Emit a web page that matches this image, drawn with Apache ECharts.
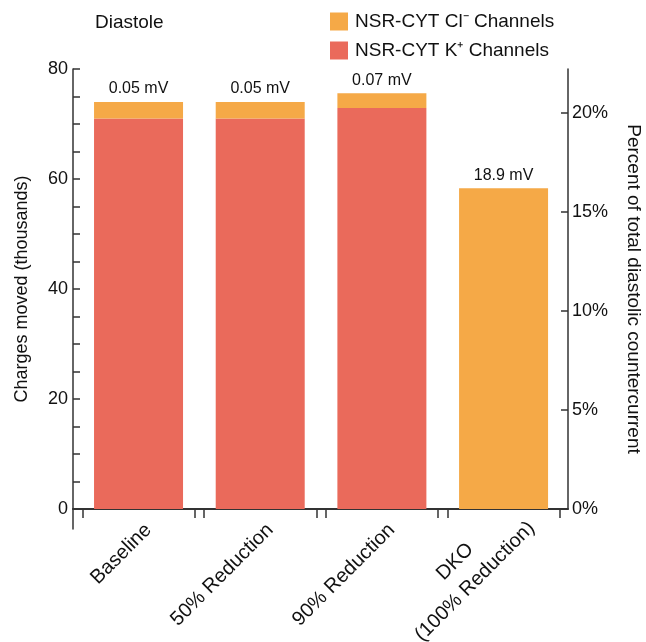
<!DOCTYPE html>
<html>
<head>
<meta charset="utf-8">
<script src="https://cdn.jsdelivr.net/npm/echarts@6/dist/echarts.min.js"></script>
<style>
  html, body { margin: 0; padding: 0; background: #fff; }
  #chart { width: 646px; height: 642px; }
</style>
</head>
<body>
<div id="chart"></div>
<script>
// Diastolic countercurrent charges moved through NSR-CYT channels (thousands)
const categories = ['Baseline', '50% Reduction', '90% Reduction', 'DKO\n(100% Reduction)'];
const potassiumCharges = [71.0, 71.0, 72.9, 0];
const chlorideCharges = [3.0, 3.0, 2.7, 58.3];
const voltageLabels = ['0.05 mV', '0.05 mV', '0.07 mV', '18.9 mV'];

// Axis ticks
const chargeTicks = [0, 5, 10, 15, 20, 25, 30, 35, 40, 45, 50, 55, 60, 65, 70, 75, 80];
const chargeTickLabels = [0, 20, 40, 60, 80];
const percentTicks = [0, 5, 10, 15, 20];

const FONT = '"Liberation Sans", Arial, Helvetica, sans-serif';
const INK = '#111';
const AXIS = '#333';
const ORANGE = '#F5A947';
const RED = '#EA6A5B';

const PLOT = { top: 69, height: 440 };
const BAND_LEFT = 77.7, BAND_WIDTH = 486.7;
const BAND = BAND_WIDTH / categories.length;
const LINE_H = 28;

const chart = echarts.init(document.getElementById('chart'), null, { renderer: 'canvas' });

const gridBox = (left, top, width, height) => ({
  left, top, width, height, containLabel: false, outerBoundsMode: 'none'
});

const hiddenValueAxis = (gridIndex) => ({
  type: 'value', gridIndex, min: 0, max: 80, show: false
});

// Short category axes whose band edges give the paired ticks below each column
const tickAxis = (gridIndex) => ({
  type: 'category', gridIndex, data: ['', '', ''],
  axisLine: { show: false },
  axisTick: { show: true, length: 9, lineStyle: { color: AXIS, width: 1.5 } },
  axisLabel: { show: false },
  splitLine: { show: false }
});

// Rotated category names; single-line and two-line names are laid out on separate axes
const isMultiLine = (v) => v.indexOf('\n') >= 0;
const richName = (v) => v.split('\n').map((s) => '{c|' + s + '}').join('\n');
const nameLabel = (extra) => Object.assign({
  rotate: 45, interval: 0,
  fontFamily: FONT, fontSize: 20, color: INK,
  rich: { c: { align: 'center', fontFamily: FONT, fontSize: 20, color: INK, lineHeight: LINE_H } }
}, extra);

chart.setOption({
  animation: false,
  backgroundColor: '#fff',
  textStyle: { fontFamily: FONT, color: INK },
  title: {
    text: 'Diastole',
    left: 95, top: 13, padding: 0,
    textStyle: { fontFamily: FONT, fontSize: 19, fontWeight: 'normal', color: INK }
  },
  legend: {
    data: ['NSR-CYT Cl\u207B Channels', 'NSR-CYT K\u207A Channels'],
    orient: 'vertical',
    left: 330, top: 12, padding: 0,
    itemWidth: 18, itemHeight: 18, itemGap: 10,
    icon: 'rect',
    textStyle: { fontFamily: FONT, fontSize: 19, color: INK, padding: [0, 0, 0, 2] }
  },
  grid: [
    // bars
    gridBox(BAND_LEFT, PLOT.top, BAND_WIDTH, PLOT.height),
    // frame: axis lines and both value scales
    gridBox(73, PLOT.top, 495, PLOT.height),
    // ticks on the right edge of each column band
    gridBox(BAND_LEFT + BAND - 4.8, PLOT.top, BAND * 3, PLOT.height),
    // ticks on the left edge of each column band
    gridBox(BAND_LEFT + 4.8, PLOT.top, BAND * 3, PLOT.height),
    // left axis line running below zero
    gridBox(73, PLOT.top + PLOT.height, 10, 20)
  ],
  xAxis: [
    {
      type: 'category', gridIndex: 0, data: categories,
      axisLine: { show: false },
      axisTick: { show: false },
      axisLabel: nameLabel({
        margin: 8, verticalAlign: 'top',
        formatter: (v) => (isMultiLine(v) ? '' : richName(v))
      })
    },
    {
      type: 'category', gridIndex: 1, data: categories,
      axisLine: { show: true, onZero: false, lineStyle: { color: AXIS, width: 2 } },
      axisTick: { show: false },
      axisLabel: { show: false }
    },
    tickAxis(2),
    tickAxis(3),
    { type: 'category', gridIndex: 4, data: [''], show: false },
    {
      type: 'category', gridIndex: 0, data: categories, position: 'bottom',
      axisLine: { show: false },
      axisTick: { show: false },
      axisLabel: nameLabel({
        margin: -12, verticalAlign: 'middle', padding: [51, 0, 0, 0],
        formatter: (v) => (isMultiLine(v) ? richName(v) : '')
      })
    }
  ],
  yAxis: [
    hiddenValueAxis(0),
    {
      type: 'value', gridIndex: 1, position: 'left',
      min: 0, max: 80,
      name: 'Charges moved (thousands)',
      nameLocation: 'middle', nameGap: 42,
      nameTextStyle: { fontFamily: FONT, fontSize: 18, color: INK },
      axisLine: { show: true, lineStyle: { color: AXIS, width: 1.5 } },
      axisTick: { show: true, inside: true, length: 7, customValues: chargeTicks, lineStyle: { color: AXIS, width: 1.5 } },
      axisLabel: { customValues: chargeTickLabels, margin: 5, fontFamily: FONT, fontSize: 18, color: INK },
      splitLine: { show: false }
    },
    {
      type: 'value', gridIndex: 1, position: 'right',
      min: 0, max: 22.2,
      name: 'Percent of total diastolic countercurrent',
      nameLocation: 'middle', nameGap: 56, nameRotate: -90,
      nameTextStyle: { fontFamily: FONT, fontSize: 19, color: INK },
      axisLine: { show: true, lineStyle: { color: AXIS, width: 1.5 } },
      axisTick: { show: true, inside: true, length: 7, customValues: percentTicks, lineStyle: { color: AXIS, width: 1.5 } },
      axisLabel: { customValues: percentTicks, margin: 4, formatter: '{value}%', fontFamily: FONT, fontSize: 18, color: INK },
      splitLine: { show: false }
    },
    hiddenValueAxis(2),
    hiddenValueAxis(3),
    {
      type: 'value', gridIndex: 4, min: 0, max: 1,
      axisLine: { show: true, lineStyle: { color: AXIS, width: 1.5 } },
      axisTick: { show: false }, axisLabel: { show: false }, splitLine: { show: false }
    }
  ],
  series: [
    {
      name: 'NSR-CYT K\u207A Channels',
      type: 'bar', stack: 'charges',
      xAxisIndex: 0, yAxisIndex: 0,
      barWidth: 89,
      itemStyle: { color: RED },
      data: potassiumCharges
    },
    {
      name: 'NSR-CYT Cl\u207B Channels',
      type: 'bar', stack: 'charges',
      xAxisIndex: 0, yAxisIndex: 0,
      barWidth: 89,
      itemStyle: { color: ORANGE },
      label: {
        show: true, position: 'top', distance: 5,
        fontFamily: FONT, fontSize: 16, color: INK,
        formatter: (p) => voltageLabels[p.dataIndex]
      },
      data: chlorideCharges
    }
  ]
});
</script>
</body>
</html>
